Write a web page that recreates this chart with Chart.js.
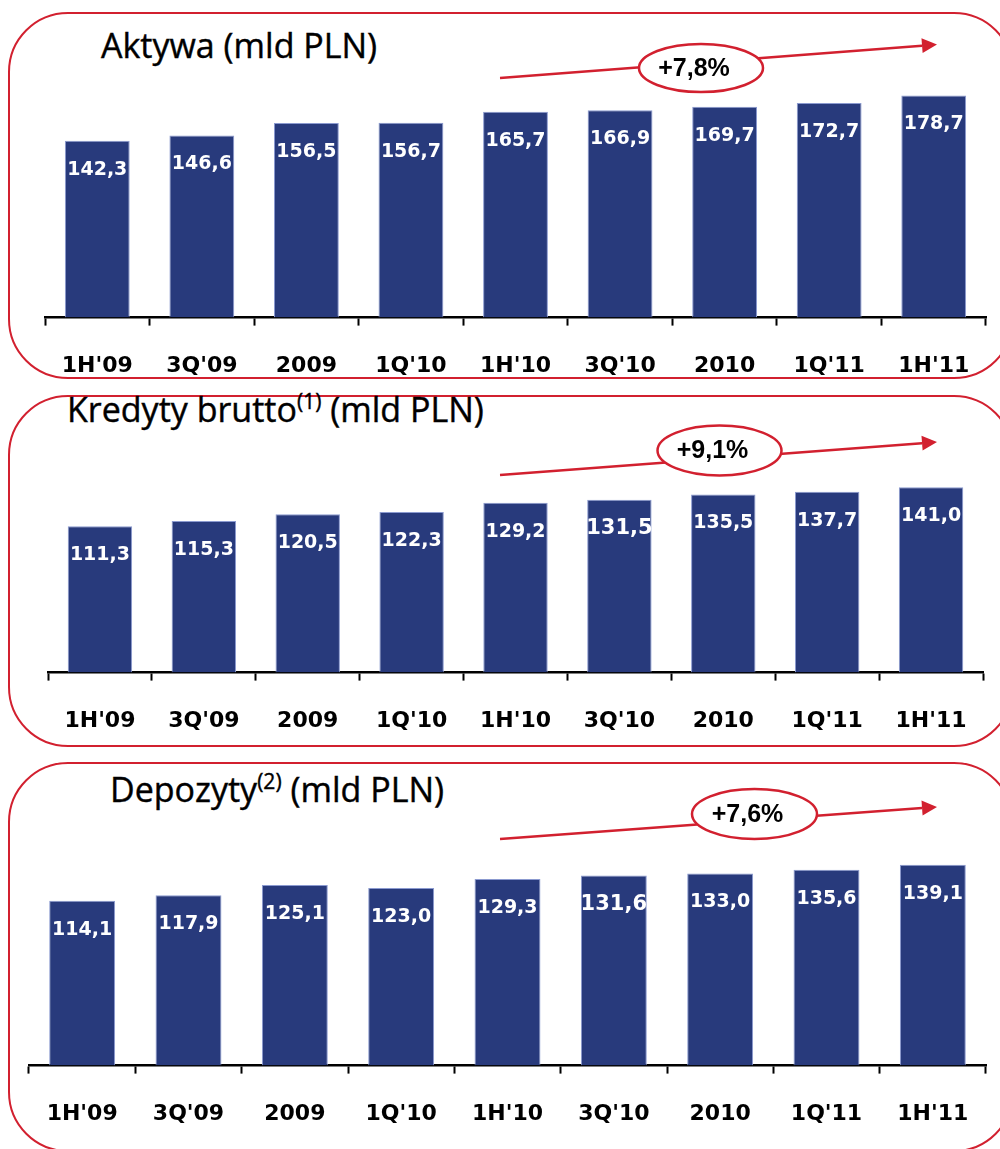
<!DOCTYPE html>
<html>
<head>
<meta charset="utf-8">
<script src="https://cdn.jsdelivr.net/npm/chart.js@4.4.0/dist/chart.umd.min.js"></script>
<style>
  html, body { margin: 0; padding: 0; background: #fff; width: 1000px; height: 1149px; overflow: hidden; }
  .panel { position: absolute; box-sizing: border-box; border: 2.5px solid #d2202f; border-radius: 60px; }
  .title { position: absolute; font-family: "Open Sans", sans-serif; font-size: 34px; line-height: 34px; color: #000; white-space: nowrap; -webkit-text-stroke: 0.4px #000; }
  .title sup { font-size: 0.62em; vertical-align: 0.62em; line-height: 0; }
  canvas { position: absolute; left: 0; }
</style>
</head>
<body>
<div class="panel" style="left:8px;top:12px;width:1006px;height:367px"></div>
<div class="panel" style="left:8px;top:395px;width:1006px;height:352px"></div>
<div class="panel" style="left:8px;top:762px;width:1006px;height:390px"></div>

<div class="title" style="left:101px;top:28px">Aktywa (mld PLN)</div>
<div class="title" style="left:67px;top:392px">Kredyty brutto<sup>(1)</sup> (mld PLN)</div>
<div class="title" style="left:110px;top:772px">Depozyty<sup>(2)</sup> (mld PLN)</div>

<canvas id="assetsChart" width="1000" height="406" style="top:0px"></canvas>
<canvas id="loansChart" width="1000" height="371" style="top:390px"></canvas>
<canvas id="depositsChart" width="1000" height="399" style="top:755px"></canvas>

<script>
var periods = ["1H'09", "3Q'09", "2009", "1Q'10", "1H'10", "3Q'10", "2010", "1Q'11", "1H'11"];
var assets = [142.3, 146.6, 156.5, 156.7, 165.7, 166.9, 169.7, 172.7, 178.7];
var loans = [111.3, 115.3, 120.5, 122.3, 129.2, 131.5, 135.5, 137.7, 141.0];
var deposits = [114.1, 117.9, 125.1, 123.0, 129.3, 131.6, 133.0, 135.6, 139.1];
var growth = ["+7,8%", "+9,1%", "+7,6%"];

var RED = '#d2202f';
var BAR_BLUE = '#283a7c';
var BAR_EDGE = '#8b9ad0';

function formatValue(v) {
    return v.toFixed(1).replace('.', ',');
}

// white value labels inside the top of each bar
var barValuesPlugin = {
    id: 'barValues',
    afterDatasetsDraw: function(chart, args, opts) {
        var ctx = chart.ctx;
        var meta = chart.getDatasetMeta(0);
        var values = chart.data.datasets[0].data;

        ctx.save();
        ctx.fillStyle = '#fff';
        ctx.textAlign = 'center';
        ctx.textBaseline = 'middle';
        meta.data.forEach(function(bar, i) {
            var size = i === opts.bigIndex ? 21 : 19;
            ctx.font = 'bold ' + size + 'px "DejaVu Sans"';
            ctx.fillText(formatValue(values[i]), bar.x, bar.y + 29);
        });
        ctx.restore();
    }
};

// red trend arrow with the growth figure in an ellipse
var growthArrowPlugin = {
    id: 'growthArrow',
    afterDraw: function(chart, args, opts) {
        var ctx = chart.ctx;
        var ang = Math.atan2(opts.to[1] - opts.from[1], opts.to[0] - opts.from[0]);
        var headLen = 15, headHalf = 7.5;
        var baseX = opts.to[0] - headLen * Math.cos(ang);
        var baseY = opts.to[1] - headLen * Math.sin(ang);

        ctx.save();
        ctx.strokeStyle = RED;
        ctx.fillStyle = RED;
        ctx.lineWidth = 2.5;
        ctx.beginPath();
        ctx.moveTo(opts.from[0], opts.from[1]);
        ctx.lineTo(baseX, baseY);
        ctx.stroke();

        ctx.beginPath();
        ctx.moveTo(opts.to[0], opts.to[1]);
        ctx.lineTo(baseX + headHalf * Math.sin(ang), baseY - headHalf * Math.cos(ang));
        ctx.lineTo(baseX - headHalf * Math.sin(ang), baseY + headHalf * Math.cos(ang));
        ctx.closePath();
        ctx.fill();

        ctx.beginPath();
        ctx.ellipse(opts.cx, opts.cy, opts.rx, opts.ry, 0, 0, 2 * Math.PI);
        ctx.fillStyle = '#fff';
        ctx.fill();
        ctx.stroke();

        ctx.fillStyle = '#000';
        ctx.font = 'bold 25px "Liberation Sans"';
        ctx.textAlign = 'center';
        ctx.textBaseline = 'middle';
        ctx.fillText(opts.text, opts.cx - 7, opts.cy + 1);
        ctx.restore();
    }
};

function buildPanel(canvasId, values, panel) {
    return new Chart(document.getElementById(canvasId), {
        type: 'bar',
        data: {
            labels: periods,
            datasets: [{
                data: values,
                backgroundColor: BAR_BLUE,
                borderColor: BAR_EDGE,
                borderWidth: 1,
                barPercentage: 0.62,
                categoryPercentage: 1
            }]
        },
        options: {
            responsive: false,
            animation: false,
            devicePixelRatio: 1,
            layout: { padding: panel.padding },
            scales: {
                x: {
                    grid: {
                        display: true,
                        drawOnChartArea: false,
                        drawTicks: true,
                        tickLength: 8,
                        tickWidth: 2,
                        tickColor: '#000',
                        offset: true
                    },
                    border: { display: true, color: '#000', width: 2.5 },
                    ticks: {
                        color: '#000',
                        font: { family: 'DejaVu Sans', weight: 'bold', size: 22 },
                        padding: 27,
                        maxRotation: 0,
                        autoSkip: false
                    }
                },
                y: { display: false, min: 0, max: panel.max }
            },
            plugins: {
                legend: { display: false },
                tooltip: { enabled: false },
                barValues: { bigIndex: panel.bigIndex },
                growthArrow: panel.arrow
            }
        },
        plugins: [barValuesPlugin, growthArrowPlugin]
    });
}

buildPanel('assetsChart', assets, {
    max: 200,
    padding: { top: 69, left: 45, right: 14, bottom: 0 },
    bigIndex: -1,
    arrow: { from: [500, 78], to: [937, 44.5], cx: 701, cy: 68, rx: 62, ry: 24, text: growth[0] }
});

buildPanel('loansChart', loans, {
    max: 150,
    padding: { top: 85.5, left: 48, right: 17, bottom: 0 },
    bigIndex: 5,
    arrow: { from: [500, 85], to: [937, 52], cx: 719.5, cy: 60.5, rx: 62, ry: 25, text: growth[1] }
});

buildPanel('depositsChart', deposits, {
    max: 150,
    padding: { top: 94, left: 29, right: 14, bottom: 0 },
    bigIndex: 5,
    arrow: { from: [500, 84], to: [937, 52], cx: 754.5, cy: 59, rx: 62.5, ry: 25, text: growth[2] }
});
</script>
</body>
</html>
